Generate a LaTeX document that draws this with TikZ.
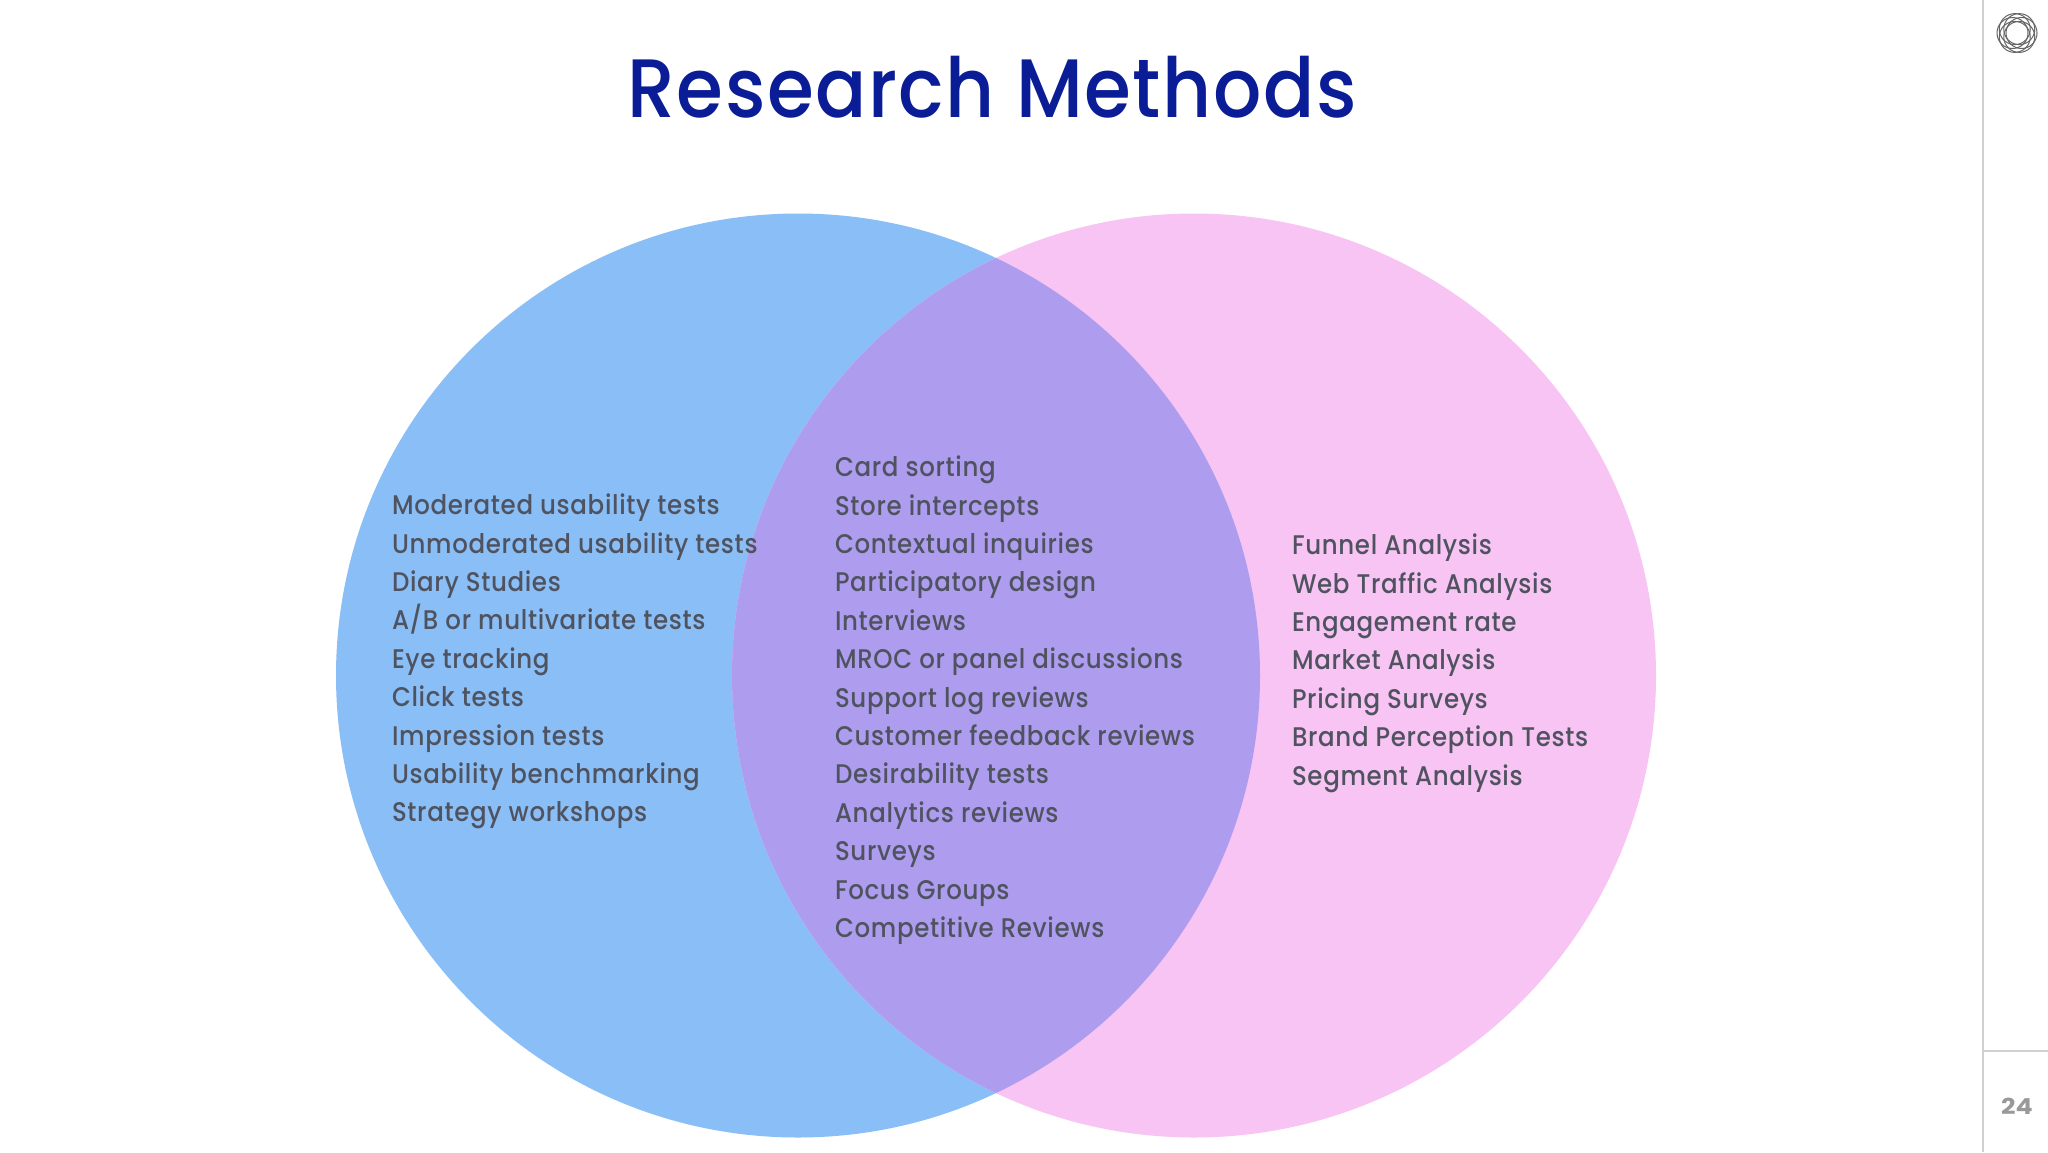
\documentclass[tikz,border=0pt]{standalone}
\usepackage{fontspec}
\setmainfont{Poppins}
\newfontfamily\titlef[LetterSpace=2]{Poppins Medium}
\newfontfamily\listf[LetterSpace=2.7]{Poppins Medium}
\definecolor{titleblue}{HTML}{0A1C96}
\definecolor{bluec}{HTML}{8ABEF6}
\definecolor{pinkc}{HTML}{F7C4F3}
\definecolor{overlapc}{HTML}{AE9DEE}
\definecolor{bodytext}{HTML}{4F5360}
\definecolor{rulec}{HTML}{D0D0D0}
\definecolor{numc}{HTML}{999999}
\tikzset{
 every node/.style={inner sep=0pt,outer sep=0pt},
 listtext/.style={anchor=north west,align=left,text=bodytext,yscale=1.1,font=\listf\fontsize{24.5pt}{34.9pt}\selectfont},
}
\begin{document}
\begin{tikzpicture}[x=1pt,y=-1pt]
\useasboundingbox (0,0) rectangle (2048,1152);
\fill[white] (0,0) rectangle (2048,1152);
\fill[bluec] (798,675.5) circle (462);
\fill[pinkc] (1194,675.5) circle (462);
\begin{scope}
\clip (798,675.5) circle (462);
\fill[overlapc] (1194,675.5) circle (462);
\end{scope}
\node[anchor=center,text=titleblue,xscale=1.024,yscale=1.12,font=\titlef\fontsize{74pt}{78pt}\selectfont] (title) at (992,87) {Research Methods};
\node[listtext] (left) at (392,494) {Moderated usability tests\\Unmoderated usability tests\\Diary Studies\\A/B or multivariate tests\\Eye tracking\\Click tests\\Impression tests\\Usability benchmarking\\Strategy workshops};
\node[listtext] (mid) at (835,456) {Card sorting\\Store intercepts\\Contextual inquiries\\Participatory design\\Interviews\\MROC or panel discussions\\Support log reviews\\Customer feedback reviews\\Desirability tests\\Analytics reviews\\Surveys\\Focus Groups\\Competitive Reviews};
\node[listtext] (right) at (1292,534) {Funnel Analysis\\Web Traffic Analysis\\Engagement rate\\Market Analysis\\Pricing Surveys\\Brand Perception Tests\\Segment Analysis};
\draw[rulec,line width=1.5pt] (1983,0) -- (1983,1152);
\draw[rulec,line width=1.5pt] (1983,1051) -- (2048,1051);
\node[text=numc,font=\bfseries\fontsize{22pt}{24pt}\selectfont,xscale=1.15] (pg) at (2017,1106) {24};
\foreach \a in {0,60,...,300}{
 \draw[black!60,line width=1pt] (2017,33) ++(\a:4.5) circle (15.5);
}
\end{tikzpicture}
\end{document}
